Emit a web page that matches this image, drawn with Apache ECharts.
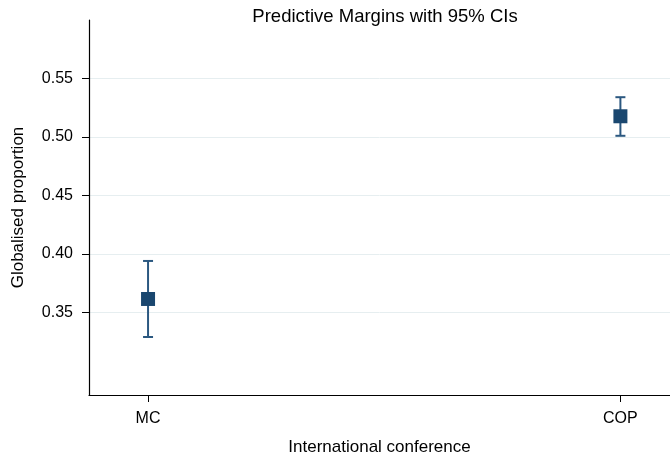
<!DOCTYPE html>
<html>
<head>
<meta charset="utf-8">
<script src="https://cdn.jsdelivr.net/npm/echarts@6/dist/echarts.min.js"></script>
<style>
  html, body { margin: 0; padding: 0; background: #fff; }
  #chart { width: 670px; height: 461px; }
</style>
</head>
<body>
<div id="chart"></div>
<script>
// Predictive margins by conference type, with 95% confidence intervals
const categories = ['MC', 'COP'];
const margins = [0.3615, 0.5177];
const ciLower = [0.329, 0.501];
const ciUpper = [0.394, 0.534];
const yTicks = [0.35, 0.40, 0.45, 0.50, 0.55];

const navy = '#1a476f';
const font = 'Liberation Sans, Arial, Helvetica, sans-serif';

// x positions 1..n for the categories
const xPos = categories.map((_, i) => i + 1);

const pointData = xPos.map((x, i) => [x, margins[i]]);
const ciData = xPos.map((x, i) => [x, ciLower[i], ciUpper[i]]);

const chart = echarts.init(document.getElementById('chart'));
chart.setOption({
  animation: false,
  backgroundColor: '#fff',
  title: {
    text: 'Predictive Margins with 95% CIs',
    left: 380,
    textAlign: 'center',
    top: 2,
    textStyle: { fontFamily: font, fontSize: 18.5, fontWeight: 'normal', color: '#000' }
  },
  grid: { left: 89, right: 0, top: 20, bottom: 63, containLabel: false },
  xAxis: {
    type: 'value',
    min: 0.875,
    max: 2.105,
    name: 'International conference',
    nameLocation: 'middle',
    nameGap: 44,
    nameTextStyle: { fontFamily: font, fontSize: 17, color: '#000' },
    axisLine: { show: true, lineStyle: { color: '#000', width: 1.2 } },
    axisTick: { show: true, length: 7, customValues: xPos, lineStyle: { color: '#000' } },
    axisLabel: {
      customValues: xPos,
      margin: 16,
      fontFamily: font, fontSize: 16, color: '#000',
      formatter: v => categories[Math.round(v) - 1] || ''
    },
    splitLine: { show: false }
  },
  yAxis: {
    type: 'value',
    min: 0.2794,
    max: 0.60,
    name: 'Globalised proportion',
    nameLocation: 'middle',
    nameGap: 62,
    nameTextStyle: { fontFamily: font, fontSize: 17, color: '#000' },
    axisLine: { show: true, lineStyle: { color: '#000', width: 1.2 } },
    axisTick: { show: true, length: 7, customValues: yTicks, lineStyle: { color: '#000' } },
    axisLabel: {
      customValues: yTicks,
      margin: 16,
      fontFamily: font, fontSize: 16, color: '#000',
      formatter: v => v.toFixed(2)
    },
    splitLine: { show: true, lineStyle: { color: '#e6eef0', width: 1 } }
  },
  series: [
    {
      type: 'custom',
      name: 'CI',
      data: ciData,
      z: 2,
      renderItem: function (params, api) {
        const x = api.value(0);
        const lo = api.coord([x, api.value(1)]);
        const hi = api.coord([x, api.value(2)]);
        const cap = 5;
        const style = { stroke: '#2b5880', lineWidth: 2 };
        return {
          type: 'group',
          children: [
            { type: 'line', shape: { x1: hi[0], y1: hi[1], x2: lo[0], y2: lo[1] }, style },
            { type: 'line', shape: { x1: hi[0] - cap, y1: hi[1], x2: hi[0] + cap, y2: hi[1] }, style },
            { type: 'line', shape: { x1: lo[0] - cap, y1: lo[1], x2: lo[0] + cap, y2: lo[1] }, style }
          ]
        };
      }
    },
    {
      type: 'scatter',
      name: 'Margin',
      data: pointData,
      symbol: 'rect',
      symbolSize: 14,
      z: 3,
      itemStyle: { color: navy, opacity: 1 }
    }
  ]
});
</script>
</body>
</html>
